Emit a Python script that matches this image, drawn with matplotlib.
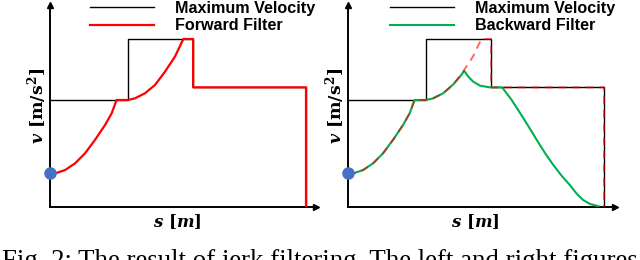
import matplotlib
matplotlib.use("Agg")
import matplotlib.pyplot as plt

plt.rcParams['mathtext.fontset'] = 'custom'
plt.rcParams['mathtext.it'] = 'DejaVu Serif:italic:bold'
plt.rcParams['mathtext.rm'] = 'DejaVu Serif:bold'
plt.rcParams['mathtext.bf'] = 'DejaVu Serif:bold'

# ---- data ----
max_s = [0, 3.05, 3.05, 5.59, 5.59, 10.0, 10.0]
max_v = [6.37, 6.37, 10.0, 10.0, 7.12, 7.12, 0.0]

fwd_s = [0, 0.2, 0.59, 0.98, 1.37, 1.76, 2.15, 2.41, 2.6, 3.05, 3.32, 3.71, 4.10, 4.49,
         4.88, 5.21, 5.59, 5.59, 10.0, 10.0]
fwd_v = [2.0, 2.0, 2.2, 2.6, 3.2, 4.0, 4.88, 5.58, 6.37, 6.37, 6.47, 6.77, 7.26, 8.05,
         8.95, 10.0, 10.0, 7.12, 7.12, 0.0]

bwd_s = [0, 0.2, 0.59, 0.98, 1.37, 1.76, 2.15, 2.41, 2.6, 3.05, 3.33, 3.72, 4.11, 4.375,
         4.54, 4.70, 4.89, 5.16, 5.55, 6.02, 6.38, 6.72, 7.05, 7.37, 7.7, 8.02, 8.35,
         8.67, 8.93, 9.18, 9.45, 9.78]
bwd_v = [2.0, 2.0, 2.2, 2.6, 3.2, 4.0, 4.88, 5.58, 6.37, 6.37, 6.47, 6.77, 7.30, 7.76,
         8.10, 7.76, 7.46, 7.22, 7.12, 7.12, 6.4, 5.6, 4.8, 4.0, 3.2, 2.5, 1.85,
         1.3, 0.8, 0.42, 0.18, 0.05]

start_s = [0]
start_v = [2.0]

legend_left = ["Maximum Velocity", "Forward Filter"]
legend_right = ["Maximum Velocity", "Backward Filter"]
xlabel = r"$s\ [m]$"
ylabel = r"$v\ [\mathrm{m/s}^2]$"
caption = "Fig. 2: The result of jerk filtering. The left and right figures"

RED = "#FF0000"
GREEN = "#00B050"
BLUE = "#4472C4"

W, H = 640, 260
fig = plt.figure(figsize=(6.4, 2.6), dpi=100)


def make_axes(x0, x1):
    ax = fig.add_axes([x0 / W, (H - 207) / H, (x1 - x0) / W, 202 / H])
    ax.set_xlim(0, (x1 - x0) / 25.6)
    ax.set_ylim(0, 202 / 16.8)
    for k in ["top", "right"]:
        ax.spines[k].set_visible(False)
    for k in ["left", "bottom"]:
        ax.spines[k].set_linewidth(1.4)
        ax.spines[k].set_zorder(1)
    ax.set_xticks([])
    ax.set_yticks([])
    ax.plot(1, 0, ">k", markersize=4, transform=ax.transAxes, clip_on=False)
    ax.plot(0, 1, "^k", markersize=4, transform=ax.transAxes, clip_on=False)
    ax.patch.set_alpha(0)
    return ax


axL = make_axes(50, 316)
axR = make_axes(348, 615)

# left panel
l1, = axL.plot(max_s, max_v, color="black", lw=1.0, zorder=2)
l2, = axL.plot(fwd_s, fwd_v, color=RED, lw=1.6, zorder=3)
axL.plot(start_s, start_v, "o", color=BLUE, markersize=8, zorder=5, clip_on=False)

# right panel
r1, = axR.plot(max_s, max_v, color="black", lw=1.0, zorder=2)
r2, = axR.plot(bwd_s, bwd_v, color=GREEN, lw=1.5, zorder=3)
axR.plot(fwd_s, fwd_v, color=RED, lw=1.4, ls=(0, (4, 3)), alpha=0.6, zorder=4)
axR.plot(start_s, start_v, "o", color=BLUE, markersize=8, zorder=5, clip_on=False)

for ax, handles, labels, xl in [(axL, [l1, l2], legend_left, 90), (axR, [r1, r2], legend_right, 390)]:
    fig.legend(handles, labels, loc="upper left", bbox_to_anchor=(xl / W, (H - 1) / H),
               frameon=False, borderpad=0, borderaxespad=0, handlelength=4.0,
               handletextpad=1.3, labelspacing=0.15,
               prop={"family": "Liberation Sans", "weight": "bold", "size": 11.6})

for cx in [177, 475]:
    fig.text(cx / W, (H - 222) / H, xlabel, ha="center", va="center", fontsize=12)
for cx in [37, 335]:
    fig.text(cx / W, (H - 106) / H, ylabel, ha="center", va="center", rotation=90, fontsize=12.5)

fig.text(2 / W, (H - 268) / H, caption, ha="left", va="baseline",
         fontsize=19.4, family="Liberation Serif")

fig.savefig("out.png", dpi=100)
